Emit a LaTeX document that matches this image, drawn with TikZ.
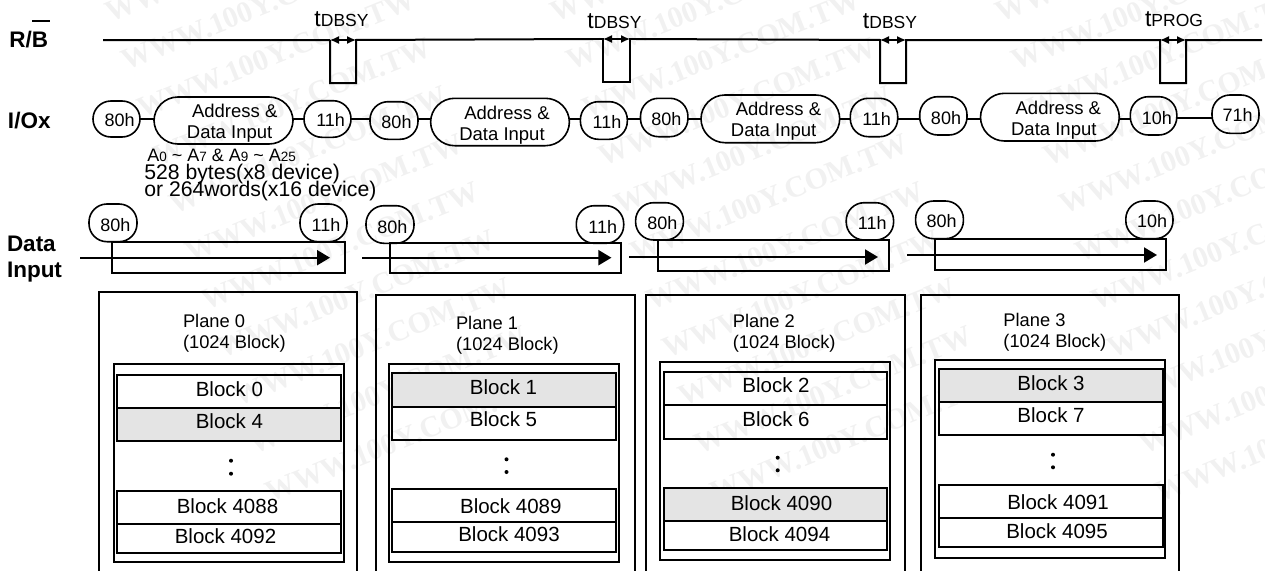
\documentclass[tikz,border=0pt]{standalone}
\usepackage{fontspec}
\setmainfont{Liberation Sans}
\newfontfamily\wmfont{Liberation Serif}
\usetikzlibrary{arrows.meta,calc}
\definecolor{wmgrey}{HTML}{F1F1F1}
\definecolor{shade}{HTML}{E4E4E4}
\newcount\tcnt
\newcommand\fs[1]{\fontsize{#1}{#1}\selectfont}
\newcommand\tx[4]{\global\advance\tcnt by 1 \node[txt,#1] (t\the\tcnt) at (#2,#3) {#4};}
\newcommand\tlab[3]{\tx{}{#1}{#2}{{\fs{23}t}{\fs{17.5}#3}}}
\newcommand\ring[5]{\node[frame,line width=1.6pt,rounded corners=18pt,minimum width=#4pt-#2pt,minimum height=#5pt-#3pt] (#1) at ({(#2+#4)/2},{(#3+#5)/2}) {};}
\newcommand\pill[5]{\node[frame,line width=1.6pt,rounded corners=24pt,minimum width=#4pt-#2pt,minimum height=#5pt-#3pt] (#1) at ({(#2+#4)/2},{(#3+#5)/2}) {};}
\newcommand\bk[6][white]{\node[frame,fill=#1,minimum width=#4pt-#2pt,minimum height=#5pt-#3pt] (#6) at ({(#2+#4)/2},{(#3+#5)/2}) {};}
\newcommand\subs[1]{{\fs{13.5}#1}}
\tikzset{
 txt/.style={inner sep=0pt,outer sep=0pt,anchor=base},
 lft/.style={anchor=base west},
 bold/.style={font=\fs{22.5}\bfseries,anchor=base west},
 cmd/.style={font=\fs{18}},
 addr/.style={font=\fs{18.5}},
 pln/.style={font=\fs{18.3},anchor=base west},
 blk/.style={font=\fs{20.5}},
 wm/.style={font=\wmfont\fs{30}\bfseries,text=wmgrey,rotate=22,anchor=base west,inner sep=0pt},
 wire/.style={line width=2pt},
 frame/.style={draw,line width=2pt,inner sep=0pt,outer sep=0pt},
 dblarrow/.style={{Latex[length=9pt,width=8pt]}-{Latex[length=9pt,width=8pt]},line width=1.3pt},
 flow/.style={-{Triangle[length=13pt,width=15pt]},line width=2pt},
 dotn/.style={circle,fill,inner sep=0pt,minimum size=4pt},
}
\begin{document}
\begin{tikzpicture}[x=1pt,y=-1pt]
\useasboundingbox (0,0) rectangle (1265,570);
% watermark
\begin{scope}
\clip (0,0) rectangle (1265,570);
\foreach \r in {0,...,10}{\foreach \c in {0,1,2}{
 \node[wm] (w\r\c) at ({110+445*\c+16*\r},{23+48*\r}) {WWW.100Y.COM.TW};
}}
\end{scope}
% R/B signal
\tx{bold}{9.3}{47.3}{R/B}
\coordinate (ob1) at (32,21); \coordinate (ob2) at (50,21);
\draw[line width=2.6pt] (ob1) -- (ob2);
\coordinate (s0) at (103,40); \coordinate (s9) at (1262,40);
\coordinate (p1a) at (330,40); \coordinate (p1c) at (330,83); \coordinate (p1d) at (356,83); \coordinate (p1b) at (356,40);
\coordinate (p2a) at (603,39); \coordinate (p2c) at (603,82); \coordinate (p2d) at (630,82); \coordinate (p2b) at (630,39);
\coordinate (p2e) at (593,39); \coordinate (p2f) at (636,39);
\coordinate (p3a) at (880,40); \coordinate (p3c) at (880,83); \coordinate (p3d) at (906,83); \coordinate (p3b) at (906,40);
\coordinate (p4a) at (1160,40); \coordinate (p4c) at (1160,83); \coordinate (p4d) at (1186,83); \coordinate (p4b) at (1186,40);
\draw[wire] (s0) -- (p1a |- s0) (p1a) -- (p1c) -- (p1d) -- (p1b) -- (p2e);
\draw[wire] (p2e) -- (p2a) -- (p2c) -- (p2d) -- (p2b) -- (p2f);
\draw[wire] (p2f) -- (p3a) -- (p3c) -- (p3d) -- (p3b) -- (p4a) -- (p4c) -- (p4d) -- (p4b) -- (s9);
\draw[dblarrow] (p1a) -- (p1b);
\draw[dblarrow] (p2a) -- (p2b);
\draw[dblarrow] (p3a) -- (p3b);
\draw[dblarrow] (p4a) -- (p4b);
\tlab{341.5}{27}{DBSY}
\tlab{614.5}{28}{DBSY}
\tlab{890}{28}{DBSY}
\tlab{1174}{27}{PROG}
% I/O row
\tx{bold}{8}{128}{I/Ox}
\ring{a1}{93}{101}{140}{137}   \tx{cmd}{119.6}{126}{80h}
\pill{a2}{154}{97}{293}{144}   \tx{addr}{234.7}{117}{Address \&} \tx{addr}{229.6}{138}{Data Input}
\ring{a3}{304}{100.7}{351}{137.3} \tx{cmd}{330.6}{126}{11h}
\ring{a4}{370}{101.7}{418}{139.3} \tx{cmd}{396.5}{128}{80h}
\pill{a5}{430.6}{98.3}{569.4}{145.7} \tx{addr}{507}{119}{Address \&} \tx{addr}{502}{140}{Data Input}
\ring{a6}{580.4}{101.7}{627.3}{139.3} \tx{cmd}{607}{128}{11h}
\ring{a7}{640.5}{98.3}{687.9}{136.7} \tx{cmd}{666.4}{125}{80h}
\pill{a8}{701}{95}{839.7}{142.7} \tx{addr}{778.5}{115.7}{Address \&} \tx{addr}{773.6}{136.7}{Data Input}
\ring{a9}{850.3}{98.3}{897.7}{136.7} \tx{cmd}{876.6}{125}{11h}
\ring{a10}{919.7}{96.7}{967}{135} \tx{cmd}{946}{124}{80h}
\pill{a11}{980.5}{93.3}{1119.3}{141} \tx{addr}{1058.3}{114}{Address \&} \tx{addr}{1053.8}{135}{Data Input}
\ring{a12}{1130.3}{96.7}{1176.8}{135} \tx{cmd}{1156.8}{124}{10h}
\ring{a13}{1212}{95}{1259}{133.3} \tx{cmd}{1237.7}{121.7}{71h}
\foreach \u/\v/\h in {a1/a2/118.7,a2/a3/118.7,a3/a4/118.7,a4/a5/119,a5/a6/119,a6/a7/119,a7/a8/118.7,a8/a9/118.7,a9/a10/118.7,a10/a11/118.7,a11/a12/118.7,a12/a13/117.7}{
 \draw[line width=1.6pt] (\u.east |- 0,\h) -- (\v.west |- 0,\h);
}
\tx{lft,font=\fs{18}}{147.3}{161}{A\subs{0} \textasciitilde{} A\subs{7} \& A\subs{9} \textasciitilde{} A\subs{25}}
\tx{lft,font=\fs{21.2}}{144.3}{179.3}{528 bytes(x8 device)}
\tx{lft,font=\fs{21.2}}{144.3}{196.7}{or 264words(x16 device)}
% Data input row
\tx{bold}{7}{251.7}{Data}
\tx{bold}{7}{277.3}{Input}
\coordinate (f1a) at (80,257.7); \coordinate (f1b) at (330,257.7);
\coordinate (f2a) at (362,257.7); \coordinate (f2b) at (611.4,257.7);
\coordinate (f3a) at (629,257); \coordinate (f3b) at (878,257);
\coordinate (f4a) at (907.4,255); \coordinate (f4b) at (1157,255);
\bk[none]{112}{242}{345}{272.7}{r1}
\bk[none]{390}{242.7}{621}{273.3}{r2}
\bk[none]{657.7}{240}{889}{270.7}{r3}
\bk[none]{935}{239}{1166}{269.7}{r4}
\draw[flow] (f1a) -- (f1b);
\draw[flow] (f2a) -- (f2b);
\draw[flow] (f3a) -- (f3b);
\draw[flow] (f4a) -- (f4b);
\ring{c1}{89}{204}{137}{241.7} \tx{cmd}{115.3}{231.7}{80h}
\ring{c2}{300}{204}{347}{241.7} \tx{cmd}{326}{231.7}{11h}
\ring{c3}{366}{205.7}{414}{243.3} \tx{cmd}{392.4}{233}{80h}
\ring{c4}{576.3}{205.7}{623.7}{243.3} \tx{cmd}{602.7}{233}{11h}
\ring{c5}{635.6}{202.7}{683.4}{240} \tx{cmd}{662.3}{229.3}{80h}
\ring{c6}{846.2}{202.7}{893.6}{240} \tx{cmd}{872.3}{229.3}{11h}
\ring{c7}{915.6}{201}{963.4}{238.7} \tx{cmd}{941.7}{227.3}{80h}
\ring{c8}{1125.8}{201}{1173}{238.7} \tx{cmd}{1152}{227.3}{10h}
% Planes
\foreach \n/\a/\t/\b in {o0/98.8/292.3/357,o1/376/295/634.7,o2/646/295/905.4,o3/921/295/1179.3}{
 \coordinate (\n a) at (\a,572); \coordinate (\n b) at (\a,\t); \coordinate (\n c) at (\b,\t); \coordinate (\n d) at (\b,572);
 \draw[wire] (\n a) -- (\n b) -- (\n c) -- (\n d);
}
\tx{pln}{183}{327.3}{Plane 0}  \tx{pln}{183}{348}{(1024 Block)}
\tx{pln}{456}{329}{Plane 1}    \tx{pln}{456}{350}{(1024 Block)}
\tx{pln}{732.8}{327}{Plane 2}  \tx{pln}{732.8}{348}{(1024 Block)}
\tx{pln}{1003.4}{326}{Plane 3} \tx{pln}{1003.4}{347}{(1024 Block)}
% Plane 0
\bk[none]{113.5}{364}{344}{561.7}{f0}
\bk[none]{116.7}{375}{340.7}{407.7}{b0}      \tx{blk}{229.4}{396}{Block 0}
\bk[shade]{116.7}{407.7}{340.7}{440.7}{b4}  \tx{blk}{229.4}{428.7}{Block 4}
\bk[none]{116.7}{491}{340.7}{523.7}{b4088}   \tx{blk}{227.5}{513.7}{Block 4088}
\bk[none]{116.7}{523.7}{340.7}{552.7}{b4092} \tx{blk}{225.5}{543.3}{Block 4092}
\node[dotn] (d01) at (231,460.7) {}; \node[dotn] (d02) at (231,473.7) {};
% Plane 1
\bk[none]{388.6}{364.3}{619}{561.7}{f1}
\bk[shade]{392}{372.7}{616}{406.7}{b1} \tx{blk}{503.5}{394}{Block 1}
\bk[none]{392}{406.7}{616}{440}{b5}          \tx{blk}{503.5}{426.7}{Block 5}
\bk[none]{392}{489}{616}{522.3}{b4089}       \tx{blk}{510.8}{513.7}{Block 4089}
\bk[none]{392}{522.3}{616}{551.7}{b4093}     \tx{blk}{509}{541}{Block 4093}
\node[dotn] (d11) at (506.5,459.3) {}; \node[dotn] (d12) at (506.5,472) {};
% Plane 2
\bk[none]{659.7}{362.3}{889.5}{560}{f2}
\bk[none]{663.8}{372.3}{887.4}{405}{b2}      \tx{blk}{776}{392.7}{Block 2}
\bk[none]{663.8}{405}{887.4}{439}{b6}        \tx{blk}{776}{426}{Block 6}
\bk[shade]{663.8}{487.7}{887.4}{521}{b4090} \tx{blk}{781.5}{510}{Block 4090}
\bk[none]{663.8}{521}{887.4}{550.3}{b4094}   \tx{blk}{779.5}{541}{Block 4094}
\node[dotn] (d21) at (777.7,457.7) {}; \node[dotn] (d22) at (777.7,470.3) {};
% Plane 3
\bk[none]{935}{360}{1165}{557.7}{f3}
\bk[shade]{939.3}{369}{1163}{401.7}{b3} \tx{blk}{1051}{390}{Block 3}
\bk[none]{939.3}{401.7}{1163}{435}{b7}       \tx{blk}{1051}{422.7}{Block 7}
\bk[none]{939.3}{485}{1163}{517.7}{b4091}    \tx{blk}{1058}{509}{Block 4091}
\bk[none]{939.3}{517.7}{1163}{546.7}{b4095}  \tx{blk}{1057}{538.3}{Block 4095}
\node[dotn] (d31) at (1053,454.7) {}; \node[dotn] (d32) at (1053,467.3) {};
\end{tikzpicture}
\end{document}
